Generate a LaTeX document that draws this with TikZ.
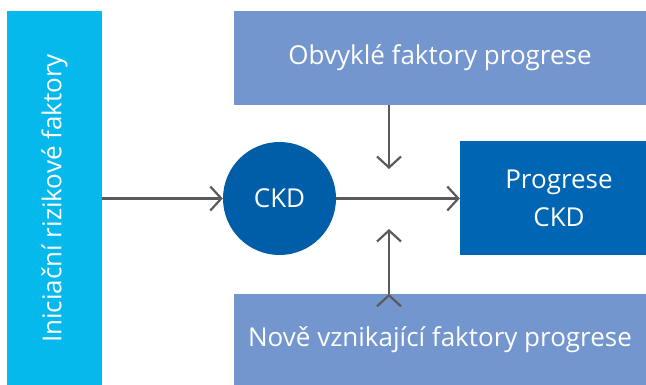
\documentclass[tikz,border=0pt]{standalone}
\usepackage{fontspec}
\setmainfont{Open Sans}
\usepackage{tikz}
\usetikzlibrary{positioning}
\usetikzlibrary{arrows.meta}
\definecolor{riskcyan}{RGB}{5,185,236}
\definecolor{factorblue}{RGB}{116,150,206}
\definecolor{ckdblue}{RGB}{0,94,168}
\definecolor{progblue}{RGB}{0,102,179}
\definecolor{arrowgray}{RGB}{90,90,90}
\tikzset{box node/.style={rectangle,inner sep=0pt,text=white,align=center,font=\fontsize{26}{38}\selectfont},
  factor node/.style={box node,fill=factorblue,minimum width=412pt},
  flow/.style={draw=arrowgray,line width=2.2pt,-{Straight Barb[length=11pt,width=24pt,line width=2.2pt]}},}

\begin{document}
\begin{tikzpicture}[x=1pt,y=-1pt]
    \useasboundingbox (0,0) rectangle (646,385);
	\node[box node, fill=riskcyan, rotate=90, minimum width=375pt, minimum height=95pt] (init) at (54.5,198.5) {Iniciační rizikové faktory};
	\node[box node, circle, fill=ckdblue, minimum size=113pt] (ckd) at (279.5,198.5) {CKD};
	\node[box node, fill=progblue, minimum width=186pt, minimum height=114pt] (prog) at (553,198.5) {\hspace*{12pt}Progrese\\\hspace*{12pt}CKD};
	\node[factor node, minimum height=94pt] (usual) at (440,58) {Obvyklé faktory progrese};
	\node[factor node, minimum height=91pt] (new) at (440,339.5) {Nově vznikající faktory progrese};
	\coordinate (topend) at (389,169);
	\coordinate (botend) at (389,229);

	\path[flow]
	(init.south |- ckd) edge (ckd.west)
	(ckd) edge (prog)
	(usual.south -| topend) edge (topend)
	(new.north -| botend) edge (botend);
\end{tikzpicture}
\end{document}
